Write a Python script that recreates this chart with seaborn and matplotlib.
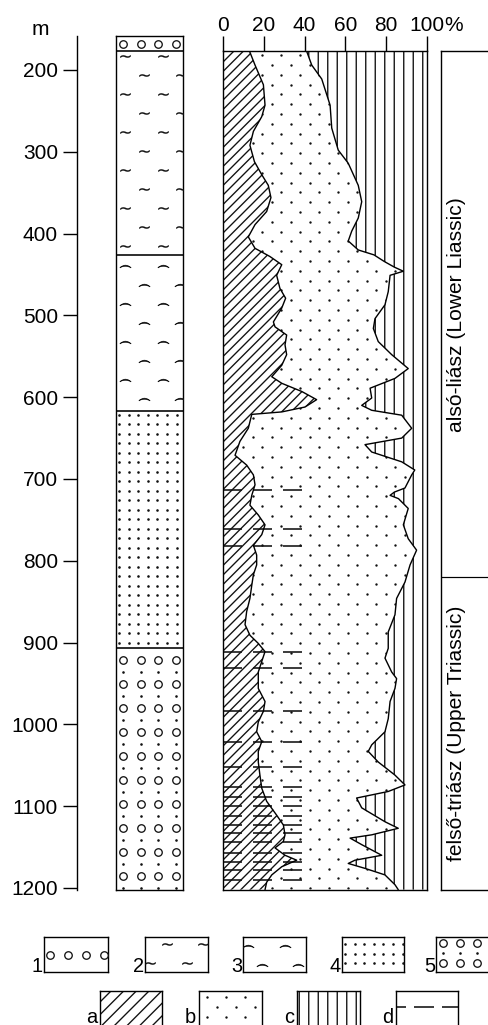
import numpy as np
import matplotlib
matplotlib.use("Agg")
import matplotlib.pyplot as plt
import seaborn as sns

# --- data ---
depth_ticks = list(range(200, 1201, 100))
pct_ticks = [0, 20, 40, 60, 80, 100]

# lithology column (m)
lith_code = ["1", "2", "3", "4", "5"]
lith_top = [158, 177, 426, 617, 906]
lith_base = [177, 426, 617, 906, 1202]

# boundary a|b (cumulative %)
a_depth = [177, 194, 218, 243, 257, 275, 292, 312, 328, 341,
           356, 373, 389, 404, 418, 428, 438, 451, 467, 479,
           491, 508, 514, 524, 536, 548, 561, 575, 583, 593,
           603, 612, 618, 621, 638, 654, 671, 683, 695, 707,
           720, 732, 744, 756, 768, 781, 793, 805, 817, 830,
           846, 862, 878, 891, 901, 911, 923, 936, 956, 972,
           984, 997, 1009, 1021, 1033, 1046, 1062, 1078, 1094, 1111,
           1123, 1135, 1143, 1151, 1160, 1166, 1174, 1184, 1193, 1202]
a_right = [13.0, 15.7, 19.8, 20.6, 19.0, 14.9, 13.2, 15.4, 19.0, 22.2,
           23.5, 21.4, 15.7, 12.4, 15.7, 23.0, 28.8, 26.3, 27.9, 30.7,
           28.8, 24.7, 25.5, 31.2, 30.4, 31.2, 28.8, 23.9, 28.8, 38.6,
           45.9, 40.2, 28.8, 14.1, 12.4, 8.3, 5.9, 11.6, 14.9, 15.7,
           14.1, 13.2, 17.3, 20.6, 19.0, 14.9, 16.5, 16.5, 14.9, 14.1,
           13.2, 11.6, 10.8, 13.2, 17.3, 20.6, 19.0, 17.3, 17.3, 20.6,
           19.8, 17.3, 16.5, 19.0, 17.3, 17.3, 18.1, 19.0, 21.4, 26.3,
           29.6, 30.4, 29.6, 25.5, 30.4, 36.1, 28.8, 23.9, 21.4, 20.6]

# boundary b|c (cumulative %)
c_depth = [177, 194, 211, 243, 271, 298, 314, 341, 361, 381,
           397, 409, 420, 426, 434, 441, 446, 451, 471, 487,
           504, 516, 532, 548, 565, 577, 589, 601, 610, 616,
           622, 638, 650, 658, 667, 679, 689, 695, 711, 716,
           720, 724, 736, 756, 773, 787, 805, 826, 846, 866,
           887, 907, 919, 936, 944, 956, 972, 993, 1009, 1025,
           1033, 1046, 1062, 1074, 1082, 1090, 1102, 1119, 1127, 1135,
           1139, 1147, 1160, 1166, 1170, 1176, 1184, 1196, 1202]
c_left = [41.0, 43.5, 48.4, 52.5, 53.3, 56.5, 61.4, 66.3, 68.0, 66.3,
          63.1, 61.4, 66.3, 74.0, 79.0, 84.0, 88.4, 81.9, 81.0, 79.4,
          74.5, 73.7, 76.1, 82.7, 90.8, 84.3, 72.1, 72.9, 68.0, 72.9,
          87.6, 92.5, 87.6, 69.6, 72.9, 87.6, 94.0, 92.5, 89.2, 84.0,
          81.9, 86.0, 90.8, 88.4, 90.8, 94.9, 91.7, 89.2, 85.1, 84.3,
          81.0, 81.0, 79.4, 82.7, 85.1, 84.3, 81.9, 81.0, 79.4, 72.9,
          71.2, 76.1, 84.3, 89.2, 81.0, 65.5, 68.0, 79.4, 85.9, 72.9,
          62.3, 68.0, 77.8, 64.7, 61.4, 69.6, 79.4, 84.3, 85.9]

# component d marks (m)
d_depth = [713, 761, 782, 912, 931, 984, 1021, 1052, 1077, 1089,
           1100, 1112, 1123, 1133, 1144, 1157, 1168, 1178, 1190]
d_reach = 41

stage_name = ["alsó-liász (Lower Liassic)", "felső-triász (Upper Triassic)"]
stage_top = [177, 820]
stage_base = [820, 1202]

legend_lith = ["1", "2", "3", "4", "5"]
legend_comp = ["a", "b", "c", "d"]

# --- layout (pixels) ---
W, H, DPI = 488, 1025, 114
Y200, PPM = 70.0, 0.818
D_TOP, D_BOT = 158.4, 1202.4
FS = 13.2
INK = "#111111"

sns.set_theme(style="ticks")
plt.rcParams["font.family"] = ["Liberation Sans", "DejaVu Sans"]
plt.rcParams.update({"text.color": "black", "xtick.color": "black", "ytick.color": "black",
                     "axes.edgecolor": "black", "hatch.color": INK,
                     "hatch.linewidth": 0.85, "lines.scale_dashes": False})

def pt(px):
    return px * 72 / DPI

def ypx(d):
    return Y200 + (d - 200) * PPM

fig = plt.figure(figsize=(W / DPI, H / DPI), dpi=DPI)

def add_ax(x0, y0, x1, y1):
    ax = fig.add_axes([x0 / W, 1 - y1 / H, (x1 - x0) / W, (y1 - y0) / H])
    for s in ax.spines.values():
        s.set_linewidth(pt(1.4))
    return ax

def px_scale(ax):
    pos = ax.get_position()
    x0, x1 = ax.get_xlim()
    y0, y1 = ax.get_ylim()
    return pos.width * W / abs(x1 - x0), pos.height * H / abs(y1 - y0)

def lattice(ax, y0, y1, row0, drow, cols_a, cols_b):
    # staggered grid of texture marks, spacing given in pixels
    sx, sy = px_scale(ax)
    xl = ax.get_xlim()[0]
    h = abs(y1 - y0) * sy
    sgn = 1 if y1 > y0 else -1
    if row0 == "mid":
        row0 = h / 2
    xs, ys = [], []
    for i, r in enumerate(np.arange(row0, h - 1.5, drow)):
        for c in (cols_a if i % 2 == 0 else cols_b):
            xs.append(xl + c / sx)
            ys.append(y0 + sgn * r / sy)
    return xs, ys

def stamp(ax, kind, xs, ys):
    if kind == "circle":
        return ax.scatter(xs, ys, s=pt(7.5) ** 2, facecolors="white", edgecolors=INK,
                          linewidths=pt(1.3), zorder=3)
    if kind == "dot":
        return ax.scatter(xs, ys, s=pt(2.6) ** 2, color=INK, linewidths=0, zorder=3)
    if kind == "wave":
        return ax.scatter(xs, ys, marker=r"$\sim$", s=pt(10.5) ** 2, color=INK, linewidths=0.1, zorder=3)
    return ax.scatter(xs, ys, marker=r"$\frown$", s=pt(11) ** 2, color=INK, linewidths=0.45, zorder=3)

C4 = [7, 25, 42, 60]
DOTS7 = [3, 12.6, 22.2, 31.8, 41.4, 51, 60.6]
COLUMN_STYLE = {
    "1": [("circle", "mid", 99, C4, C4)],
    "2": [("wave", 5, 19, [9, 47], [28, 65])],
    "3": [("frown", 11, 19, [9, 47], [28, 64])],
    "4": [("dot", 3.5, 9.5, DOTS7, DOTS7)],
    "5": [("circle", 12, 24, C4, C4), ("dot", 24, 24, C4, C4)],
}
LEGEND_STYLE = {
    "1": [("circle", "mid", 99, [6, 24, 42, 60], [6, 24, 42, 60])],
    "2": [("wave", 7, 19, [22, 58], [5, 42])],
    "3": [("frown", 9, 19, [5, 42], [19, 55])],
    "4": [("dot", 7, 9.5, DOTS7, DOTS7)],
    "5": [("circle", 6, 20, [7, 24, 41, 58], [7, 24, 41, 58]),
          ("dot", 16, 20, [7, 24, 41, 58], [7, 24, 41, 58])],
}

def fill_litho(ax, code, y0, y1, style):
    for kind, row0, drow, ca, cb in style[code]:
        xs, ys = lattice(ax, y0, y1, row0, drow, ca, cb)
        stamp(ax, kind, xs, ys)

# --- depth scale ---
ax_d = add_ax(77, ypx(D_TOP), 110, ypx(D_BOT))
ax_d.set_ylim(D_BOT, D_TOP)
ax_d.set_xlim(0, 1)
for s in ["top", "right", "bottom"]:
    ax_d.spines[s].set_visible(False)
ax_d.set_facecolor("none")
ax_d.set_xticks([])
ax_d.set_yticks(depth_ticks)
ax_d.tick_params(axis="y", left=True, length=pt(14), width=pt(1.4), pad=pt(5), labelsize=FS)
fig.text(40 / W, 1 - 35 / H, "m", ha="center", va="baseline", fontsize=FS)

# --- lithology column ---
ax_l = add_ax(116, ypx(D_TOP), 183, ypx(D_BOT))
ax_l.set_ylim(D_BOT, D_TOP)
ax_l.set_xlim(0, 1)
ax_l.set_xticks([])
ax_l.set_yticks([])
for b in lith_base[:-1]:
    ax_l.axhline(b, color="black", lw=pt(1.6))
for code, t, b in zip(lith_code, lith_top, lith_base):
    fill_litho(ax_l, code, max(t, D_TOP), b, COLUMN_STYLE)

# --- composition panel ---
ax_c = add_ax(223, ypx(stage_top[0]), 427, ypx(D_BOT))
ax_c.set_xlim(0, 100)
ax_c.set_ylim(D_BOT, stage_top[0])
ax_c.fill_betweenx(a_depth, 0, a_right, facecolor="white", edgecolor=INK, hatch="////", linewidth=0, zorder=1)
ax_c.fill_betweenx(c_depth, c_left, 100, facecolor="white", edgecolor=INK, hatch="||", linewidth=0, zorder=1)
poly_b = ax_c.fill(np.r_[a_right, c_left[::-1]], np.r_[a_depth, c_depth[::-1]],
                   facecolor="none", edgecolor="none")[0]
xs, ys = lattice(ax_c, stage_top[0], D_BOT, 4, 9.8, np.arange(1, 204, 19), np.arange(10.5, 204, 19))
dots_b = stamp(ax_c, "dot", xs, ys)
dots_b.set_sizes([pt(2.4) ** 2])
dots_b.set_clip_path(poly_b)
ax_c.hlines(d_depth, 0, d_reach, colors=INK, linewidth=pt(1.6),
            linestyles=(0, (pt(19), pt(11))), zorder=2)
sns.lineplot(x=a_right, y=a_depth, orient="y", estimator=None, color="black", lw=pt(1.4), ax=ax_c, zorder=4)
sns.lineplot(x=c_left, y=c_depth, orient="y", estimator=None, color="black", lw=pt(1.4), ax=ax_c, zorder=4)
ax_c.set_xlim(0, 100)
ax_c.set_ylim(D_BOT, stage_top[0])
ax_c.set_xlabel("")
ax_c.set_ylabel("")
ax_c.set_yticks([])
ax_c.xaxis.tick_top()
ax_c.set_xticks(pct_ticks)
ax_c.set_xticklabels([str(p) for p in pct_ticks])
ax_c.tick_params(axis="x", top=True, bottom=False, length=pt(15), width=pt(1.4), pad=pt(1.5), labelsize=FS)
lab100 = ax_c.get_xticklabels()[-1]
ax_c.annotate("%", xy=(1, 0), xycoords=lab100, ha="left", va="bottom", fontsize=FS)

# --- stratigraphy column ---
ax_s = add_ax(441, ypx(stage_top[0]), 530, ypx(D_BOT))
ax_s.set_xlim(0, 1)
ax_s.set_ylim(D_BOT, stage_top[0])
ax_s.spines["right"].set_visible(False)
ax_s.set_xticks([])
ax_s.set_yticks([])
for t in stage_top[1:]:
    ax_s.axhline(t, color="black", lw=pt(1.2))
for name, t, b in zip(stage_name, stage_top, stage_base):
    ax_s.text((457 - 441) / 89, (t + b) / 2, name, rotation=90, ha="center", va="center", fontsize=13.3)

# --- legend ---
LEG1 = [(44, 937, 108, 972), (145, 937, 208, 972), (243, 937, 306, 972),
        (342, 937, 404, 972), (436, 937, 500, 972)]
LEG2 = [(100, 991, 162, 1027), (199, 991, 262, 1027), (297, 991, 360, 1027), (396, 991, 458, 1027)]

for code, (x0, y0, x1, y1) in zip(legend_lith, LEG1):
    ax = add_ax(x0, y0, x1, y1)
    ax.set_xlim(0, 1)
    ax.set_ylim(0, 1)
    ax.set_xticks([])
    ax.set_yticks([])
    fill_litho(ax, code, 1, 0, LEGEND_STYLE)
    fig.text((x0 - 1) / W, 1 - 972 / H, code, ha="right", va="baseline", fontsize=12.6)

for code, (x0, y0, x1, y1) in zip(legend_comp, LEG2):
    ax = add_ax(x0, y0, x1, y1)
    ax.set_xlim(0, 1)
    ax.set_ylim(0, 1)
    ax.set_xticks([])
    ax.set_yticks([])
    if code == "a":
        ax.fill_between([0, 1], 0, 1, facecolor="white", edgecolor=INK, hatch="///", linewidth=0)
    elif code == "b":
        xs, ys = lattice(ax, 1, 0, 6, 10, np.arange(8, 64, 19), np.arange(17.5, 64, 19))
        stamp(ax, "dot", xs, ys).set_sizes([pt(2.4) ** 2])
    elif code == "c":
        ax.fill_between([0, 1], 0, 1, facecolor="white", edgecolor=INK, hatch="||", linewidth=0)
    else:
        ax.axhline(1 - 16 / 36, color=INK, lw=pt(1.6), linestyle=(pt(10), (pt(20), pt(8))))
    fig.text((x0 - 3) / W, 1 - 1023 / H, code, ha="right", va="baseline", fontsize=12.6)

fig.savefig("out.png", dpi=DPI)
